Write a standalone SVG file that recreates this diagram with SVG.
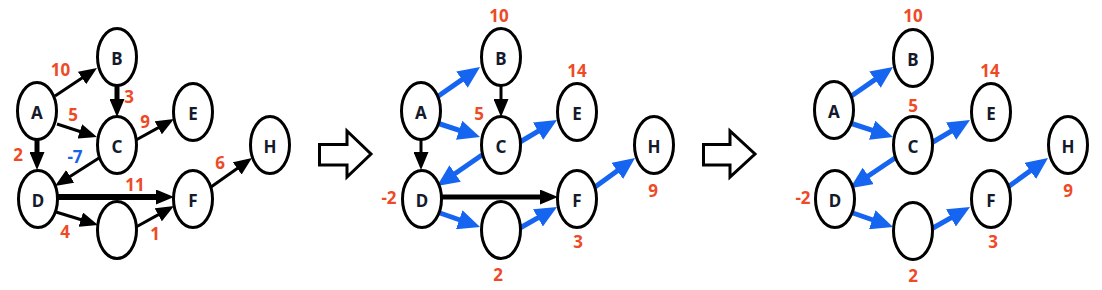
<svg xmlns="http://www.w3.org/2000/svg" width="1102" height="290" viewBox="0 0 1102 290">
<defs>
<style>
.node ellipse{fill:#fff;stroke:#000;stroke-width:3}
.node text{font-family:"Noto Sans","Open Sans",sans-serif;font-weight:bold;font-size:17px;fill:#141a2c;text-anchor:middle;dominant-baseline:central}
.num{font-family:"Noto Sans","Open Sans",sans-serif;font-weight:bold;font-size:17px;fill:#EE4A26;text-anchor:middle;dominant-baseline:central}
.numb{fill:#1A63E8}
.e{fill:none;stroke:#000;stroke-width:3;marker-end:url(#ah)}
.ek{fill:none;stroke:#000;stroke-width:5;marker-end:url(#ah)}
.eb{fill:none;stroke:#1565F0;stroke-width:5;marker-end:url(#ahb)}
.big{fill:#fff;stroke:#000;stroke-width:3;stroke-linejoin:miter}
</style>
<marker id="ah" markerUnits="userSpaceOnUse" viewBox="0 0 18 15" markerWidth="18" markerHeight="15" refX="9" refY="7.5" orient="auto"><path d="M0,0 L18,7.5 L0,15 Z" fill="#000"/></marker>
<marker id="ahb" markerUnits="userSpaceOnUse" viewBox="0 0 22 20" markerWidth="22" markerHeight="20" refX="10" refY="10" orient="auto"><path d="M0,0 L22,10 L0,20 Z" fill="#1565F0"/></marker>
</defs>
<rect width="1102" height="290" fill="#fff"/>

<!-- Panel 1 -->
<g id="panel1">
<g id="p1-edges">
<line class="e" x1="55" y1="96" x2="89.5" y2="73"/>
<line class="ek" x1="117" y1="86" x2="117" y2="108"/>
<line class="e" x1="57" y1="124" x2="88.4" y2="134.2"/>
<line class="e" x1="136" y1="140" x2="166.1" y2="123.4"/>
<line class="ek" x1="37" y1="139" x2="37" y2="161"/>
<line class="e" x1="99" y1="158" x2="62.6" y2="181.2"/>
<line class="ek" x1="58" y1="197" x2="165" y2="197" style="stroke-width:6"/>
<line class="e" x1="56" y1="212" x2="89.4" y2="222.3"/>
<line class="e" x1="136" y1="227" x2="166.1" y2="210.4"/>
<line class="e" x1="211" y1="187" x2="244.6" y2="163.2"/>
</g>
<g id="p1-A" class="node"><ellipse cx="37" cy="111" rx="19.5" ry="28.5"/><text x="37" y="112">A</text></g>
<g id="p1-B" class="node"><ellipse cx="117" cy="57" rx="19.5" ry="28.5"/><text x="117" y="58">B</text></g>
<g id="p1-C" class="node"><ellipse cx="117" cy="145" rx="19.5" ry="28.5"/><text x="117" y="146">C</text></g>
<g id="p1-E" class="node"><ellipse cx="193" cy="112" rx="19.5" ry="28.5"/><text x="193" y="113">E</text></g>
<g id="p1-H" class="node"><ellipse cx="270" cy="145" rx="19.5" ry="28.5"/><text x="270" y="146">H</text></g>
<g id="p1-D" class="node"><ellipse cx="38" cy="199" rx="19.5" ry="28.5"/><text x="38" y="200">D</text></g>
<g id="p1-F" class="node"><ellipse cx="193" cy="199" rx="19.5" ry="28.5"/><text x="193" y="200">F</text></g>
<g id="p1-U" class="node"><ellipse cx="117" cy="230" rx="19.5" ry="28.5"/></g>
<g id="p1-labels">
<text class="num" x="60.5" y="69">10</text>
<text class="num" x="129" y="96">3</text>
<text class="num" x="73" y="114">5</text>
<text class="num" x="145" y="121">9</text>
<text class="num" x="18" y="154">2</text>
<text class="num numb" x="75" y="156">-7</text>
<text class="num" x="135" y="184">11</text>
<text class="num" x="220" y="162">6</text>
<text class="num" x="65" y="231">4</text>
<text class="num" x="155" y="233">1</text>
</g>
</g>

<polygon id="step1" class="big" points="319.5,144.5 347,144.5 347,131 371,154 347,177 347,165 319.5,165"/>

<!-- Panel 2 -->
<g id="panel2" transform="translate(384,0)">
<g id="p2-edges">
<line class="eb" x1="53" y1="97" x2="86.2" y2="73.9"/>
<line class="e" x1="117" y1="86" x2="117" y2="108"/>
<line class="eb" x1="53" y1="123" x2="84.6" y2="133.3"/>
<line class="eb" x1="136" y1="142" x2="162.7" y2="126.1"/>
<line class="e" x1="37" y1="139" x2="37" y2="161"/>
<line class="eb" x1="98" y1="155" x2="62.9" y2="179.2"/>
<line class="ek" x1="58" y1="197" x2="165" y2="197"/>
<line class="eb" x1="53" y1="212" x2="84.7" y2="223"/>
<line class="eb" x1="136" y1="228" x2="162.6" y2="212.9"/>
<line class="eb" x1="211" y1="187" x2="241.3" y2="165"/>
</g>
<g id="p2-A" class="node"><ellipse cx="37" cy="111" rx="19.5" ry="28.5"/><text x="37" y="112">A</text></g>
<g id="p2-B" class="node"><ellipse cx="117" cy="57" rx="19.5" ry="28.5"/><text x="117" y="58">B</text></g>
<g id="p2-C" class="node"><ellipse cx="117" cy="145" rx="19.5" ry="28.5"/><text x="117" y="146">C</text></g>
<g id="p2-E" class="node"><ellipse cx="193" cy="112" rx="19.5" ry="28.5"/><text x="193" y="113">E</text></g>
<g id="p2-H" class="node"><ellipse cx="270" cy="145" rx="19.5" ry="28.5"/><text x="270" y="146">H</text></g>
<g id="p2-D" class="node"><ellipse cx="38" cy="199" rx="19.5" ry="28.5"/><text x="38" y="200">D</text></g>
<g id="p2-F" class="node"><ellipse cx="193" cy="199" rx="19.5" ry="28.5"/><text x="193" y="200">F</text></g>
<g id="p2-U" class="node"><ellipse cx="117" cy="230" rx="19.5" ry="28.5"/></g>
<g id="p2-labels">
<text class="num" x="115" y="15">10</text>
<text class="num" x="95" y="113">5</text>
<text class="num" x="193" y="70">14</text>
<text class="num" x="5" y="197">-2</text>
<text class="num" x="114" y="274">2</text>
<text class="num" x="269" y="190">9</text>
<text class="num" x="194" y="241">3</text>
</g>
</g>

<polygon id="step2" class="big" points="703.5,144.5 730,144.5 730,131 755,154 730,177 730,165 703.5,165"/>

<!-- Panel 3 -->
<g id="panel3" transform="translate(797,0)">
<g id="p3-edges">
<line class="eb" x1="53" y1="97" x2="86.2" y2="73.9"/>
<line class="eb" x1="53" y1="123" x2="84.6" y2="133.3"/>
<line class="eb" x1="136" y1="142" x2="162.7" y2="126.1"/>
<line class="eb" x1="98" y1="158" x2="63" y2="181.5"/>
<line class="eb" x1="53" y1="212" x2="84.7" y2="223"/>
<line class="eb" x1="136" y1="228" x2="162.6" y2="212.9"/>
<line class="eb" x1="211" y1="187" x2="241.3" y2="165"/>
</g>
<g id="p3-A" class="node"><ellipse cx="37" cy="110" rx="19.5" ry="28.5"/><text x="37" y="111">A</text></g>
<g id="p3-B" class="node"><ellipse cx="116" cy="58" rx="19.5" ry="28.5"/><text x="116" y="59">B</text></g>
<g id="p3-C" class="node"><ellipse cx="116" cy="145" rx="19.5" ry="28.5"/><text x="116" y="146">C</text></g>
<g id="p3-E" class="node"><ellipse cx="194" cy="112" rx="19.5" ry="28.5"/><text x="194" y="113">E</text></g>
<g id="p3-H" class="node"><ellipse cx="271" cy="145" rx="19.5" ry="28.5"/><text x="271" y="146">H</text></g>
<g id="p3-D" class="node"><ellipse cx="38" cy="199" rx="19.5" ry="28.5"/><text x="38" y="200">D</text></g>
<g id="p3-F" class="node"><ellipse cx="194" cy="199" rx="19.5" ry="28.5"/><text x="194" y="200">F</text></g>
<g id="p3-U" class="node"><ellipse cx="116" cy="231" rx="19.5" ry="28.5"/></g>
<g id="p3-labels">
<text class="num" x="116" y="15">10</text>
<text class="num" x="193" y="70">14</text>
<text class="num" x="116" y="105">5</text>
<text class="num" x="6" y="197">-2</text>
<text class="num" x="271" y="190">9</text>
<text class="num" x="196" y="241">3</text>
<text class="num" x="116" y="275">2</text>
</g>
</g>
</svg>
